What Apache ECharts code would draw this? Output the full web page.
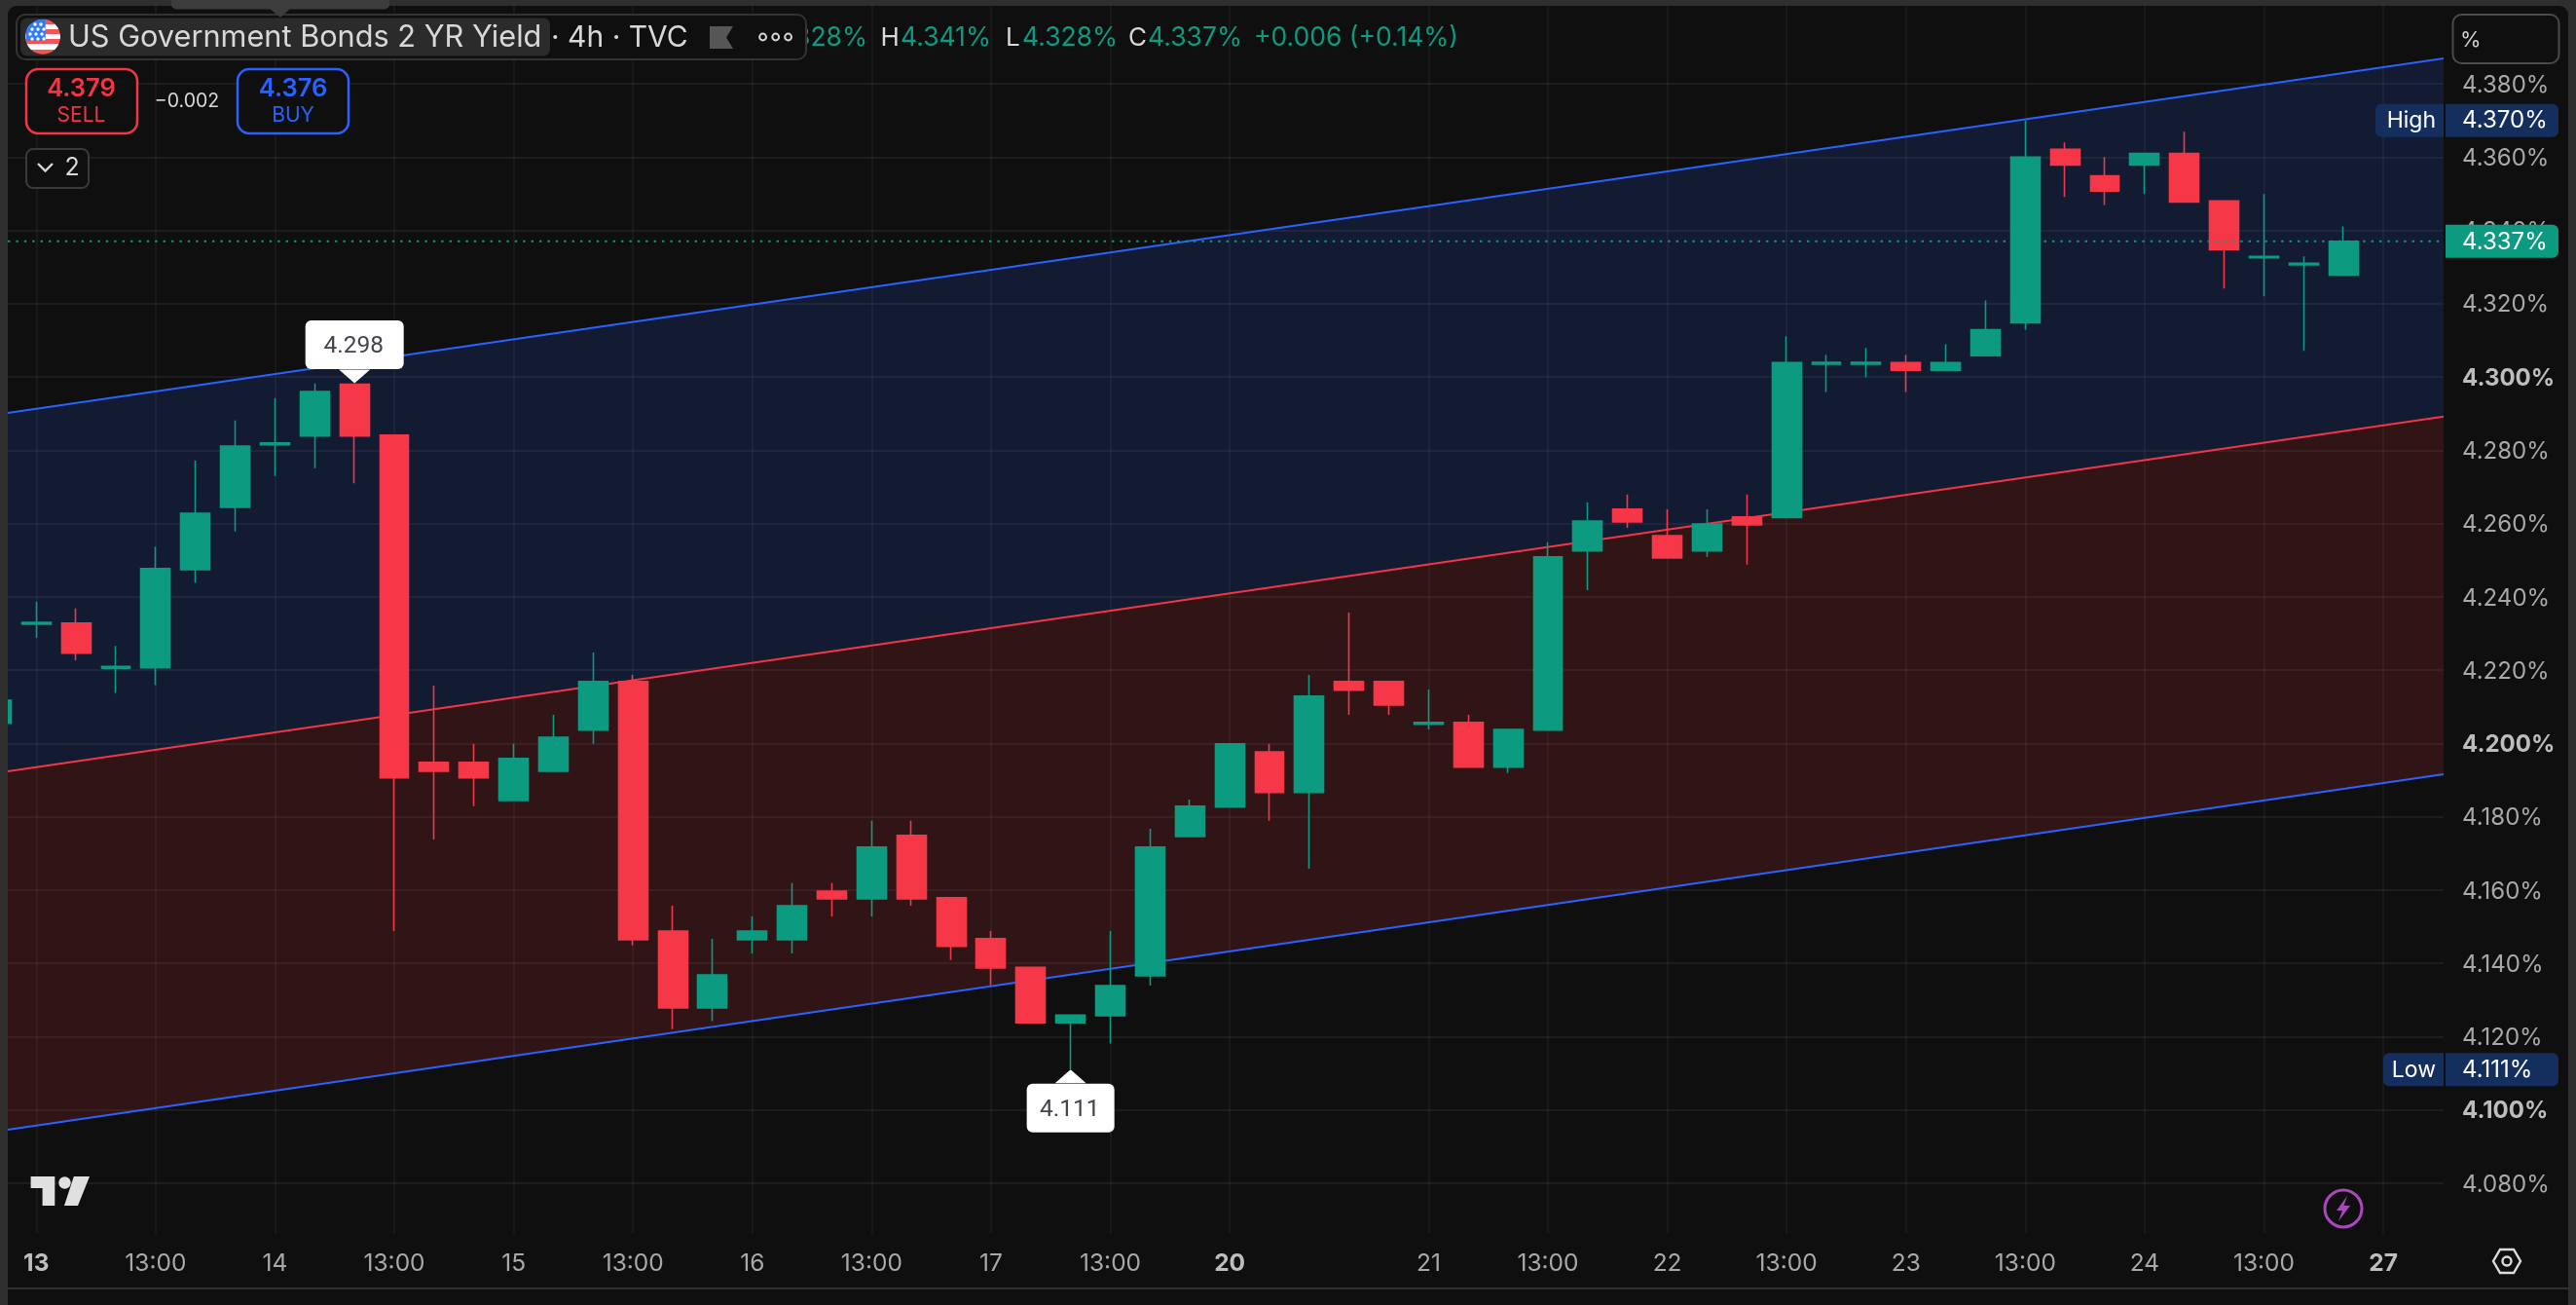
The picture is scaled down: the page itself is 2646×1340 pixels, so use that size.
<!DOCTYPE html>
<html>
<head>
<meta charset="utf-8">
<style>html,body{margin:0;padding:0;background:#2f2f2f}#c{width:2646px;height:1340px}</style>
<script src="https://cdn.jsdelivr.net/npm/echarts@6/dist/echarts.min.js"></script>
</head>
<body>
<div id="c"></div>
<script>
// ---- data (first bar is the clipped one left of "13") ----
const barIndex = Array.from({length:60},(_,i)=>i-1);
const opens  = [4.2055,4.2325,4.2328,4.2205,4.2206,4.2474,4.2644,4.2815,4.2839,4.2980,4.2841,4.1948,4.1948,4.1844,4.1924,4.2036,4.2169,4.1488,4.1278,4.1464,4.1464,4.1597,4.1576,4.1749,4.1579,4.1467,4.1389,4.1238,4.1257,4.1366,4.1746,4.1826,4.1977,4.1866,4.2169,4.2169,4.2052,4.2057,4.1935,4.2036,4.2525,4.2639,4.2567,4.2525,4.2618,4.2616,4.3035,4.3035,4.3039,4.3018,4.3058,4.3148,4.3621,4.3549,4.3578,4.3610,4.3480,4.3325,4.3306,4.3278];
const closes = [4.2118,4.2330,4.2246,4.2210,4.2477,4.2628,4.2811,4.2820,4.2960,4.2839,4.1906,4.1924,4.1906,4.1959,4.2017,4.2169,4.1464,4.1278,4.1368,4.1488,4.1557,4.1576,4.1717,4.1576,4.1446,4.1387,4.1238,4.1259,4.1339,4.1717,4.1829,4.1999,4.1866,4.2129,4.2145,4.2105,4.2057,4.1935,4.2038,4.2509,4.2607,4.2604,4.2506,4.2599,4.2596,4.3039,4.3040,4.3040,4.3018,4.3039,4.3129,4.3600,4.3578,4.3507,4.3610,4.3477,4.3347,4.3329,4.3310,4.3370];
const lows   = [4.2055,4.2288,4.2227,4.2138,4.2159,4.2438,4.2578,4.2730,4.2751,4.2710,4.1488,4.1738,4.1829,4.1844,4.1924,4.1999,4.1449,4.1220,4.1242,4.1427,4.1427,4.1528,4.1528,4.1557,4.1409,4.1340,4.1238,4.1110,4.1181,4.1339,4.1746,4.1826,4.1789,4.1658,4.2078,4.2078,4.2038,4.1935,4.1919,4.2036,4.2418,4.2588,4.2506,4.2509,4.2488,4.2616,4.2959,4.2999,4.2959,4.3018,4.3058,4.3129,4.3491,4.3469,4.3499,4.3477,4.3241,4.3220,4.3071,4.3278];
const highs  = [4.2118,4.2387,4.2368,4.2266,4.2537,4.2772,4.2881,4.2942,4.2982,4.2980,4.2841,4.2158,4.1999,4.1999,4.2078,4.2248,4.2187,4.1557,4.1467,4.1528,4.1619,4.1619,4.1789,4.1789,4.1579,4.1488,4.1389,4.1259,4.1488,4.1767,4.1847,4.1999,4.1999,4.2187,4.2357,4.2169,4.2147,4.2078,4.2038,4.2549,4.2658,4.2679,4.2639,4.2639,4.2679,4.3111,4.3060,4.3079,4.3060,4.3089,4.3209,4.3700,4.3640,4.3600,4.3610,4.3669,4.3480,4.3499,4.3329,4.3411];

const xMin = -0.9129, xMax = 60.516;
const channelX     = [-0.717, 60.516];
const channelUpper = [4.2902, 4.3869];
const channelMid   = [4.1924, 4.2892];
const channelLower = [4.0946, 4.1916];

const yTicks      = [4.08,4.10,4.12,4.14,4.16,4.18,4.20,4.22,4.24,4.26,4.28,4.30,4.32,4.34,4.36,4.38];
const yBoldTicks  = [4.10,4.20,4.30];
const xTickBars   = [0,3,6,9,12,15,18,21,24,27,30,35,38,41,44,47,50,53,56,59];
const xTickLabels = ['13','13:00','14','13:00','15','13:00','16','13:00','17','13:00','20','21','13:00','22','13:00','23','13:00','24','13:00','27'];
const xBoldLabels = ['13','20','27'];

const lastPrice = 4.337;
const tagPrices = [4.370, 4.111, 4.337];
const tagTexts  = ['4.370%','4.111%','4.337%'];
const tagNames  = ['High','Low',''];
const calloutBars   = [8, 26];
const calloutPrices = [4.298, 4.111];
const calloutSides  = ['up','down'];

const BG='#0f0f0f', FRAME='#2f2f2f', GREEN='#0c9a81', RED='#f53748', BLUE='#2962ff', BRED='#f23645', NAVY='#142f5e';
const FONT='Inter';

// ---- overlay helpers ----
function t(x,y,text,size,fill,align,weight,z){
  return {type:'text',z:z||120,silent:true,style:{x,y,text,fill,align:align||'left',verticalAlign:'middle',font:(weight||400)+' '+size+'px '+FONT}};
}
function r(x,y,w,h,rad,fill,stroke,lw,z){
  return {type:'rect',z:z||110,silent:true,shape:{x,y,width:w,height:h,r:rad},style:{fill:fill||'none',stroke:stroke||'none',lineWidth:lw||0}};
}
function poly(points,fill,z){return {type:'polygon',z:z||120,silent:true,shape:{points},style:{fill}};}
function circle(cx,cy,rad,fill,stroke,lw,z){return {type:'circle',z:z||120,silent:true,shape:{cx,cy,r:rad},style:{fill:fill||'none',stroke:stroke||'none',lineWidth:lw||0}};}

const flagCx=44, flagCy=37.7, flagR=18;
const stripeStops=[];
[['#f25555',0,.143],['#ffffff',.143,.286],['#f25555',.286,.429],['#ffffff',.429,.572],['#f25555',.572,.715],['#ffffff',.715,.858],['#f25555',.858,1]].forEach(s=>{stripeStops.push({offset:s[1],color:s[0]},{offset:s[2],color:s[0]});});
const cantonPts=[[flagCx+2.7,flagCy+4.3],[flagCx+2.7,flagCy-17.8]];
for(let a=-99;a>=-165;a-=6){const rad=a*Math.PI/180;cantonPts.push([flagCx+flagR*Math.cos(rad),flagCy+flagR*Math.sin(rad)]);}
cantonPts.push([flagCx-17.5,flagCy+4.3]);
const flagStars=[];
[[36,25],[42,25],[33,30],[39,30],[45,30],[31,35],[37,35],[43,35],[33,40],[39,40],[45,40]].forEach(p=>flagStars.push(circle(p[0],p[1],1.7,'#ffffff',null,0,123)));

const overlays=[
  // frame
  r(0,0,8,1340,0,FRAME,null,0,105),
  r(8,0,2638,6,0,FRAME,null,0,105),
  r(2638,0,8,1340,0,FRAME,null,0,105),
  r(8,1322,2630,2,0,'#2f2f2f',null,0,105),
  // top tooltip fragment
  r(176,-8,224,17.5,5,'#3c3c3c',null,0,125),
  poly([[277,9],[298,9],[288,18]],'#3c3c3c',125),
  // OHLC legend
  t(891,39.5,'4.328%',26.5,GREEN,'right',400,118),
  r(17,15,811,46,9,BG,'#333333',2,119),
  r(21,18.5,544,39,7,'#2b2b2b',null,0,119),
  {type:'circle',z:121,silent:true,shape:{cx:flagCx,cy:flagCy,r:flagR},style:{fill:{type:'linear',x:0,y:0,x2:0,y2:1,colorStops:stripeStops}}},
  poly(cantonPts,'#2f7cf6',122),
  ...flagStars,
  t(70,39,'US Government Bonds 2 YR Yield',30.7,'#d8d8d8'),
  t(566,39,'· 4h · TVC',30,'#d8d8d8'),
  poly([[729,27],[753,27],[746,38.5],[753,50],[729,50]],'#565656'),
  circle(783.6,38,3.4,'none','#d8d8d8',2),circle(796.7,38,3.4,'none','#d8d8d8',2),circle(809.6,38,3.4,'none','#d8d8d8',2),
  t(904.6,39.5,'H',26,'#d8d8d8'),t(925,39.5,'4.341%',26.5,GREEN),
  t(1033,39.5,'L',26,'#d8d8d8'),t(1050,39.5,'4.328%',26.5,GREEN),
  t(1159,39.5,'C',26,'#d8d8d8'),t(1179,39.5,'4.337%',26.5,GREEN),
  t(1288,39.5,'+0.006 (+0.14%)',26.5,GREEN),
  // trade buttons
  r(27,71,114,66,12,BG,BRED,2.5,119),
  t(83.5,91,'4.379',25.5,BRED,'center',600),t(83.5,118.5,'SELL',21,BRED,'center'),
  t(192,104.5,'−0.002',19.5,'#d8d8d8','center'),
  r(244,71,114,66,12,BG,BLUE,2.5,119),
  t(301,91,'4.376',25.5,BLUE,'center',600),t(301,118.5,'BUY',21,BLUE,'center'),
  r(27,153,64,40,7,BG,'#3a3a3a',2,119),
  {type:'polyline',z:120,silent:true,shape:{points:[[39,168],[46.5,175.5],[54,168]]},style:{stroke:'#d8d8d8',lineWidth:2.4,fill:'none'}},
  t(74,172.5,'2',25,'#d8d8d8','center'),
  // scale box
  r(2519.5,15,109,50,9,BG,'#4a4a4a',2,119),
  t(2527,41,'%',22,'#d0d0d0'),
  // logo
  poly([[31.6,1208],[56.3,1208],[56.3,1238],[43.6,1238],[43.6,1220],[31.6,1220]],'#e0e0e0'),
  circle(66.5,1214.5,6.2,'#e0e0e0'),
  poly([[75.8,1208],[92,1208],[80,1238],[66,1238]],'#e0e0e0'),
  // lightning
  circle(2407,1241,19,'none','#ab47bc',3),
  poly([[2411,1228],[2400,1243],[2406,1243],[2402,1254],[2414,1238],[2407.5,1238]],'#ab47bc'),
  // settings
  {type:'polygon',z:120,silent:true,shape:{points:[[2561,1295],[2568,1283],[2582,1283],[2589,1295],[2582,1307],[2568,1307]]},style:{fill:'none',stroke:'#dcdcdc',lineWidth:2.4}},
  circle(2575,1295,4.5,'none','#dcdcdc',2.4)
];

// ---- option ----
const chart = echarts.init(document.getElementById('c'),null,{renderer:'canvas',width:2646,height:1340});
const GRIDLINE='rgba(240,240,240,0.06)';

function renderFill(params,api){
  const upper=channelX.map((x,i)=>api.coord([x,channelUpper[i]]));
  const mid=channelX.map((x,i)=>api.coord([x,channelMid[i]]));
  const lower=channelX.map((x,i)=>api.coord([x,channelLower[i]]));
  return {type:'group',children:[
    {type:'polygon',shape:{points:[upper[0],upper[1],mid[1],mid[0]]},style:{fill:'rgba(41,98,255,0.15)'}},
    {type:'polygon',shape:{points:[mid[0],mid[1],lower[1],lower[0]]},style:{fill:'rgba(242,54,69,0.15)'}}
  ]};
}
function renderTag(params,api){
  const i=params.dataIndex;
  const p=api.coord([xMax,tagPrices[i]]);
  const right=p[0], y=p[1], h=34, name=tagNames[i];
  const fill=name?NAVY:GREEN;
  const kids=[];
  kids.push({type:'rect',shape:{x:right+2,y:y-h/2,width:116,height:h,r:[0,6,6,0]},style:{fill}});
  kids.push({type:'text',style:{x:right+19,y:y+0.5,text:tagTexts[i],fill:'#ffffff',align:'left',verticalAlign:'middle',font:'400 24px '+FONT}});
  if(name){
    const w=name==='High'?70:62;
    kids.push({type:'rect',shape:{x:right-w,y:y-h/2,width:w,height:h,r:[6,0,0,6]},style:{fill}});
    kids.push({type:'text',style:{x:right-8,y:y+0.5,text:name,fill:'#ffffff',align:'right',verticalAlign:'middle',font:'400 23px '+FONT}});
  }
  return {type:'group',children:kids};
}
function renderCallout(params,api){
  const i=params.dataIndex, p=api.coord([calloutBars[i],calloutPrices[i]]);
  const up=calloutSides[i]==='up', x=p[0], tip=p[1]+(up?-1:0);
  const sign=up?-1:1, boxNear=tip+sign*14.5, boxFar=boxNear+sign*50;
  const w=up?101:90, top=Math.min(boxNear,boxFar);
  return {type:'group',children:[
    {type:'rect',shape:{x:x-w/2,y:top,width:w,height:50,r:6},style:{fill:'#ffffff'}},
    {type:'polygon',shape:{points:[[x-16,boxNear-sign*0.5],[x+16,boxNear-sign*0.5],[x,tip]]},style:{fill:'#ffffff'}},
    {type:'text',style:{x:x-1,y:top+27,text:calloutPrices[i].toFixed(3),fill:'#42434f',align:'center',verticalAlign:'middle',font:'400 24.5px Roboto'}}
  ]};
}
const lineSeries=(name,vals,color)=>({name,type:'line',data:channelX.map((x,i)=>[x,vals[i]]),showSymbol:false,symbol:'none',silent:true,z:3,lineStyle:{color,width:2}});

chart.setOption({
  animation:false,
  backgroundColor:FRAME,
  tooltip:{show:false},
  grid:{left:0,top:6,width:2510,height:1260},
  graphic:{elements:[r(8,6,2630,1334,[9,9,0,0],BG,null,0,-10),...overlays]},
  xAxis:{type:'value',position:'bottom',min:xMin,max:xMax,
    axisLine:{show:false},axisTick:{show:false,customValues:xTickBars},
    splitLine:{show:true,lineStyle:{color:GRIDLINE,width:1.6}},
    axisLabel:{customValues:xTickBars,margin:19.5,showMinLabel:true,showMaxLabel:true,hideOverlap:false,
      formatter:v=>{const s=xTickLabels[xTickBars.indexOf(v)];return xBoldLabels.includes(s)?'{b|'+s+'}':'{n|'+s+'}';},
      rich:{n:{fontFamily:FONT,fontSize:24.5,color:'#a9a9a9',lineHeight:24},b:{fontFamily:FONT,fontSize:24.5,fontWeight:700,color:'#bdbdbd',lineHeight:24}}}
  },
  yAxis:{type:'value',position:'right',min:4.06642,max:4.40126,
    axisLine:{show:false},axisTick:{show:false,customValues:yTicks},
    splitLine:{show:true,lineStyle:{color:GRIDLINE,width:2}},
    axisLabel:{customValues:yTicks,margin:19,align:'left',hideOverlap:false,padding:[3,0,0,0],
      formatter:v=>{const s=v.toFixed(3)+'%';return yBoldTicks.some(b=>Math.abs(b-v)<1e-6)?'{b|'+s+'}':'{n|'+s+'}';},
      rich:{n:{fontFamily:FONT,fontSize:24,color:'#a9a9a9'},b:{fontFamily:FONT,fontSize:24,fontWeight:700,color:'#bdbdbd'}}}
  },
  series:[
    {name:'channel fill',type:'custom',renderItem:renderFill,data:[[channelX[0],channelUpper[0]]],silent:true,z:1},
    lineSeries('upper',channelUpper,BLUE),
    lineSeries('mid',channelMid,BRED),
    lineSeries('lower',channelLower,BLUE),
    {name:'US02Y',type:'candlestick',barWidth:30.4,silent:true,z:5,
      data:barIndex.map((b,i)=>[b,opens[i],closes[i],lows[i],highs[i]]),
      itemStyle:{color:GREEN,color0:RED,borderColor:GREEN,borderColor0:RED,borderWidth:1.6}},
    {name:'last',type:'line',data:[[channelX[0],lastPrice],[channelX[1],lastPrice]],showSymbol:false,symbol:'none',silent:true,z:6,
      lineStyle:{color:GREEN,width:2,type:[2.4,6]}},
    {name:'tags',type:'custom',renderItem:renderTag,silent:true,z:50,data:tagPrices.map(p=>[xMax,p])},
    {name:'callouts',type:'custom',renderItem:renderCallout,silent:true,z:50,data:calloutBars.map((b,i)=>[b,calloutPrices[i]])}
  ]
});
</script>
</body>
</html>
